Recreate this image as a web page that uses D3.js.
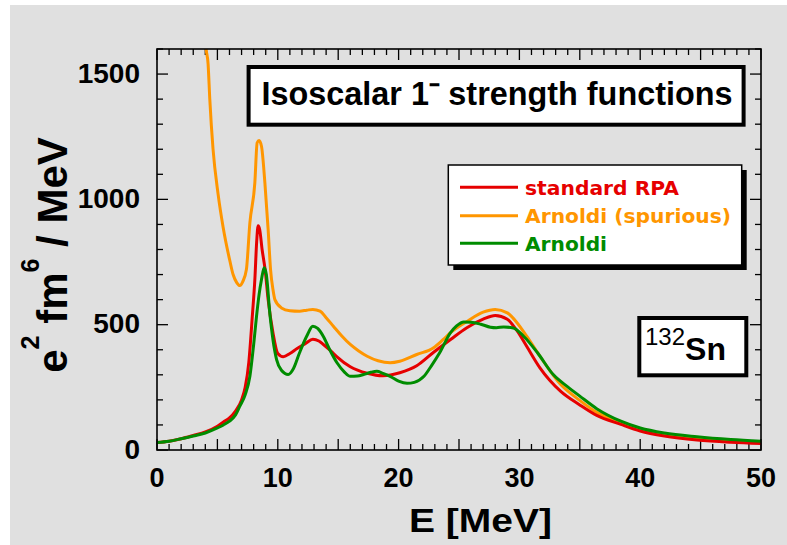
<!DOCTYPE html>
<html><head><meta charset="utf-8">
<script src="https://cdn.jsdelivr.net/npm/d3@7/dist/d3.min.js"></script>
<style>html,body{margin:0;padding:0;background:#fff;}svg{display:block;}</style>
</head><body>
<script>
// ---- data ----
const seriesNames = ["standard RPA", "Arnoldi (spurious)", "Arnoldi"];
const seriesColors = ["#e60000", "#ff9600", "#008c00"];

const rpaE = [0,1,2,3,4,5,5.5,6,6.5,7,7.3,7.6,7.9,8.1,8.25,8.37,8.5,8.7,8.95,9.2,9.6,10.0,10.45,11,11.6,12.3,12.9,13.4,13.8,14.4,14.9,16.0,17.4,18.7,20.1,21.5,22.9,24.3,25.65,27.0,28.0,29.0,29.8,30.6,31.7,33.4,35.0,36.4,38.4,40,42,44.7,47.5,50];
const rpaV = [30,35,45,58,72,95,112,128,155,200,250,350,540,680,830,895,880,800,720,600,468,385,372,385,405,425,442,435,420,395,372,332,306,296,308,336,390,441,488,522,537,522,476,414,328,235,180,138,102,76,56,40,31,26];

const spurE = [3.9,4.05,4.23,4.37,4.64,5.06,5.47,6.03,6.3,6.6,6.86,7.1,7.4,7.69,8.1,8.29,8.45,8.65,8.93,9.2,9.4,9.6,9.76,10.3,11.0,11.8,12.4,12.9,13.5,14.0,14.6,15.3,16.0,16.7,17.4,18.3,19.3,20.1,21.5,22.9,23.7,24.3,25.7,27.0,28.0,29.0,29.8,30.6,31.7,33.4,35.0,36.4,38.4,40,42,44.7,47.5,50];
const spurV = [1750,1610,1540,1400,1200,1020,890,755,700,668,656,672,720,907,1067,1226,1235,1212,1067,880,720,640,600,567,556,554,558,561,554,528,494,455,421,395,374,356,348,354,381,408,441,468,514,550,561,547,508,454,374,262,198,150,110,82,62,46,36,32];

const arnE = [0,1,2,3,4,5,5.5,6,6.5,6.86,7.3,7.69,8.0,8.24,8.45,8.65,8.87,9.05,9.35,9.6,9.9,10.3,10.86,11.3,11.8,12.4,12.9,13.3,13.76,14.3,14.9,15.5,16.0,16.6,17.1,17.7,18.2,18.7,19.3,20.0,20.7,21.3,22.1,22.7,23.4,24.3,24.8,25.4,26.0,26.8,27.6,28.1,28.7,29.5,30.35,31.5,32.8,34.0,35.0,36.4,38.4,40,42,44.7,47.5,50];
const arnV = [30,35,45,56,68,88,100,115,140,175,220,294,420,534,620,680,727,700,540,440,361,318,301,325,388,455,494,485,454,400,348,312,294,295,301,310,314,306,294,275,266,270,294,335,388,468,495,511,510,502,490,488,491,487,454,388,301,252,215,165,115,88,68,53,42,35];

const xTickLabels = [0,10,20,30,40,50];
const yTickLabels = [0,500,1000,1500];

// ---- layout ----
const W = 787, H = 545;
const L = 157, R = 761, T = 49, B = 450;

const svg = d3.select("body").append("svg").attr("width", W).attr("height", H);
svg.append("rect").attr("width", W).attr("height", H).attr("fill", "#ffffff");
svg.append("rect").attr("x", 10).attr("y", 5).attr("width", W - 10).attr("height", H - 5).attr("fill", "#e0e0e0");

const x = d3.scaleLinear().domain([0, 50]).range([L, R]);
const y = d3.scaleLinear().domain([0, 1600]).range([B, T]);

svg.append("defs").append("clipPath").attr("id", "clip")
  .append("rect").attr("x", L).attr("y", T).attr("width", R - L).attr("height", B - T);

// ticks (inward, on all four sides)
const tk = svg.append("g").attr("stroke", "#000").attr("stroke-width", 1.3);
d3.range(0, 51, 1).forEach(v => {
  const len = v % 5 === 0 ? 11 : 6;
  tk.append("line").attr("x1", x(v)).attr("x2", x(v)).attr("y1", B).attr("y2", B - len);
  tk.append("line").attr("x1", x(v)).attr("x2", x(v)).attr("y1", T).attr("y2", T + len);
});
d3.range(0, 1601, 100).forEach(v => {
  const len = v % 500 === 0 ? 11 : 6;
  tk.append("line").attr("y1", y(v)).attr("y2", y(v)).attr("x1", L).attr("x2", L + len);
  tk.append("line").attr("y1", y(v)).attr("y2", y(v)).attr("x1", R).attr("x2", R - len);
});

// tick labels
const lab = svg.append("g").attr("font-family", "'Liberation Sans', Arial, sans-serif").attr("font-weight", "bold").attr("fill", "#000");
xTickLabels.forEach(v => {
  lab.append("text").attr("x", x(v)).attr("y", 487).attr("text-anchor", "middle").attr("font-size", 27).text(v);
});
yTickLabels.forEach(v => {
  lab.append("text").attr("x", 140).attr("y", y(v) + 8.5).attr("text-anchor", "end").attr("font-size", 28).text(v);
});

// axis titles
lab.append("text").attr("x", 409).attr("y", 532).attr("font-size", 33)
  .attr("textLength", 143).attr("lengthAdjust", "spacingAndGlyphs").text("E [MeV]");

const yt = lab.append("text").attr("transform", "translate(66.5," + 255 + ") rotate(-90)")
  .attr("text-anchor", "middle").attr("font-size", 42);
yt.append("tspan").text("e");
yt.append("tspan").attr("font-size", 25).attr("dy", -28).text("2");
yt.append("tspan").attr("dy", 28).text(" fm");
yt.append("tspan").attr("font-size", 25).attr("dy", -28).text("6");
yt.append("tspan").attr("dy", 28).text(" / MeV");

// curves
const line = d3.line().x(d => x(d[0])).y(d => y(d[1])).curve(d3.curveMonotoneX);
const curves = [
  {E: spurE, V: spurV, c: seriesColors[1]},
  {E: rpaE, V: rpaV, c: seriesColors[0]},
  {E: arnE, V: arnV, c: seriesColors[2]}
];
const cg = svg.append("g").attr("clip-path", "url(#clip)");
curves.forEach(s => {
  cg.append("path").datum(s.E.map((e, i) => [e, s.V[i]]))
    .attr("d", line).attr("fill", "none").attr("stroke", s.c).attr("stroke-width", 3)
    .attr("stroke-linejoin", "round");
});

// frame
svg.append("rect").attr("x", L).attr("y", T).attr("width", R - L).attr("height", B - T)
  .attr("fill", "none").attr("stroke", "#000").attr("stroke-width", 1.6);

// title box
svg.append("rect").attr("x", 248.6).attr("y", 67).attr("width", 495).attr("height", 57.7)
  .attr("fill", "#fff").attr("stroke", "#000").attr("stroke-width", 4);
svg.append("text").attr("x", 261.5).attr("y", 105)
  .attr("font-family", "'Liberation Sans', Arial, sans-serif").attr("font-weight", "bold")
  .attr("font-size", 34).attr("textLength", 471).attr("lengthAdjust", "spacingAndGlyphs")
  .text("Isoscalar 1\u207B strength functions");

// legend box with shadow
svg.append("rect").attr("x", 453.3).attr("y", 170).attr("width", 293.4).attr("height", 100).attr("fill", "#000");
svg.append("rect").attr("x", 448.3).attr("y", 165).attr("width", 293.4).attr("height", 100)
  .attr("fill", "#fff").attr("stroke", "#000").attr("stroke-width", 1.5);
const legY = [187.3, 215.7, 243.3];
const legOrder = [0, 1, 2];
const legLen = [154, 206, 82];
legOrder.forEach((k, i) => {
  svg.append("line").attr("x1", 460).attr("x2", 518).attr("y1", legY[i]).attr("y2", legY[i])
    .attr("stroke", seriesColors[k]).attr("stroke-width", 3);
  svg.append("text").attr("x", 525).attr("y", legY[i] + 7.5)
    .attr("font-family", "'DejaVu Sans', Verdana, sans-serif").attr("font-weight", "bold")
    .attr("font-size", 19).attr("fill", seriesColors[k])
    .attr("textLength", legLen[i]).attr("lengthAdjust", "spacingAndGlyphs")
    .text(seriesNames[k]);
});

// nucleus label box
svg.append("rect").attr("x", 639.3).attr("y", 318).attr("width", 107).attr("height", 57.3)
  .attr("fill", "#fff").attr("stroke", "#000").attr("stroke-width", 4);
const nt = svg.append("text").attr("x", 645).attr("y", 360)
  .attr("font-family", "'Liberation Sans', Arial, sans-serif");
nt.append("tspan").attr("font-size", 24).attr("dy", -15).text("132");
nt.append("tspan").attr("font-size", 32).attr("font-weight", "bold").attr("dy", 15).text("Sn");
</script>
</body></html>
